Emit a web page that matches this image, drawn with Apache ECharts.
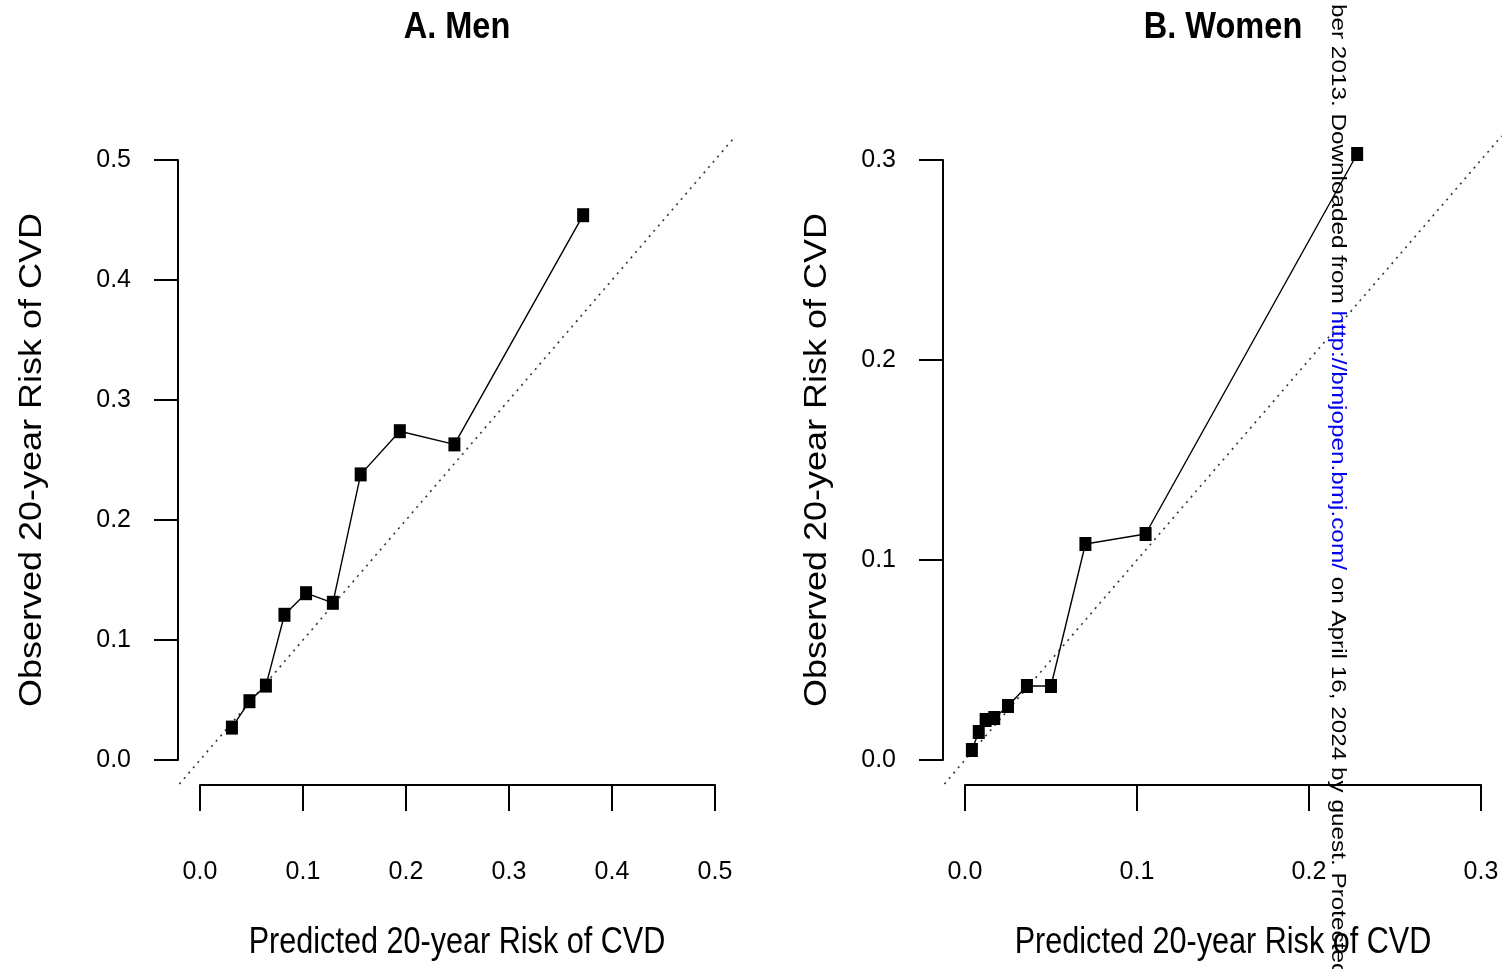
<!DOCTYPE html>
<html lang="en">
<head>
<meta charset="UTF-8">
<title>Calibration of predicted 20-year CVD risk</title>
<script src="https://cdn.jsdelivr.net/npm/echarts@6/dist/echarts.min.js"></script>
<style>
  html, body { margin: 0; padding: 0; background: #fff; }
  #chart { width: 1506px; height: 969px; }
</style>
</head>
<body>
<div id="chart"></div>
<script>
  // A. Men  - predicted vs observed risk per risk group
  var menPredicted = [0.031, 0.048, 0.064, 0.082, 0.103, 0.129, 0.156, 0.194, 0.247, 0.372];
  var menObserved  = [0.027, 0.049, 0.062, 0.121, 0.139, 0.131, 0.238, 0.274, 0.263, 0.454];
  // B. Women
  var womenPredicted = [0.004, 0.008, 0.012, 0.017, 0.025, 0.036, 0.050, 0.070, 0.105, 0.228];
  var womenObserved  = [0.005, 0.014, 0.020, 0.021, 0.027, 0.037, 0.037, 0.108, 0.113, 0.303];
  // axis maxima, plot region limits (R pads the range by 4%) used also for the y = x line
  var menAxisMax = 0.5;
  var womenAxisMax = 0.3;
  var menRegion = [-0.02, 0.52];
  var womenRegion = [-0.012, 0.312];
  var titles = ['A. Men', 'B. Women'];
  var xTitle = 'Predicted 20-year Risk of CVD';
  var yTitle = 'Observed 20-year Risk of CVD';

  var sans = '"Liberation Sans", Arial, sans-serif';

  function zip(a, b) {
    return a.map(function (v, i) { return [v, b[i]]; });
  }

  // visible R-style axes, detached from the plot region
  function xAxis(idx, max) {
    return {
      gridIndex: idx, type: 'value', min: 0, max: max, interval: 0.1,
      position: 'bottom', offset: 25,
      axisLine: { show: true, onZero: false, lineStyle: { color: '#000', width: 2 } },
      axisTick: { show: true, length: 26, lineStyle: { color: '#000', width: 2 } },
      axisLabel: { color: '#000', fontSize: 25, fontFamily: sans, margin: 75,
        formatter: function (v) { return v.toFixed(1); } },
      splitLine: { show: false }
    };
  }

  function yAxis(idx, max) {
    return {
      gridIndex: idx, type: 'value', min: 0, max: max, interval: 0.1,
      position: 'left', offset: 22,
      axisLine: { show: true, onZero: false, lineStyle: { color: '#000', width: 2 } },
      axisTick: { show: true, length: 24, lineStyle: { color: '#000', width: 2 } },
      axisLabel: { color: '#000', fontSize: 25, fontFamily: sans, margin: 47,
        formatter: function (v) { return v.toFixed(1); } },
      splitLine: { show: false }
    };
  }

  // hidden axes spanning the whole plot region, the data is drawn on these
  function regionAxis(idx, region) {
    return { gridIndex: idx, type: 'value', min: region[0], max: region[1], show: false };
  }

  function pointSeries(idx, data) {
    return {
      type: 'line', xAxisIndex: idx, yAxisIndex: idx, data: data,
      symbol: 'rect', symbolSize: [12, 14], clip: false, z: 5,
      lineStyle: { color: '#000', width: 1.4 },
      itemStyle: { color: '#000' }
    };
  }

  function diagonalSeries(idx, ends) {
    return {
      type: 'line', xAxisIndex: idx, yAxisIndex: idx,
      data: [[ends[0], ends[0]], [ends[1], ends[1]]],
      symbol: 'none', clip: false, z: 3, silent: true,
      lineStyle: { color: '#333', width: 1.6, type: [2, 5] }
    };
  }

  function hText(text, x, y, size, weight, sx) {
    return { type: 'text', x: x, y: y, scaleX: sx, z: 50,
      style: { text: text, align: 'center', verticalAlign: 'middle', fill: '#000',
        font: weight + ' ' + size + 'px ' + sans } };
  }

  function vText(text, x, y) {
    return { type: 'text', x: x, y: y, rotation: Math.PI / 2, scaleY: 0.85, z: 50,
      style: { text: text, align: 'center', verticalAlign: 'middle', fill: '#000',
        font: 'normal 36px ' + sans } };
  }

  var chart = echarts.init(document.getElementById('chart'));
  chart.setOption({
    animation: false,
    backgroundColor: '#fff',
    grid: [
      { left: 200, top: 160, width: 515, height: 600 },
      { left: 965, top: 160, width: 516, height: 600 },
      { left: 179.4, top: 136, width: 556.2, height: 648 },
      { left: 944.36, top: 136, width: 557.28, height: 648 }
    ],
    xAxis: [xAxis(0, menAxisMax), xAxis(1, womenAxisMax), regionAxis(2, menRegion), regionAxis(3, womenRegion)],
    yAxis: [yAxis(0, menAxisMax), yAxis(1, womenAxisMax), regionAxis(2, menRegion), regionAxis(3, womenRegion)],
    series: [
      diagonalSeries(2, menRegion),
      pointSeries(2, zip(menPredicted, menObserved)),
      diagonalSeries(3, womenRegion),
      pointSeries(3, zip(womenPredicted, womenObserved))
    ],
    graphic: [
      hText(titles[0], 457, 28, 37, 'bold', 0.88),
      hText(titles[1], 1223, 28, 37, 'bold', 0.88),
      hText(xTitle, 457, 943, 36, 'normal', 0.85),
      hText(xTitle, 1223, 943, 36, 'normal', 0.85),
      vText(yTitle, 33, 460),
      vText(yTitle, 818, 460),
      { type: 'text', x: 1338, y: 4, rotation: -Math.PI / 2, scaleY: 0.85, z: 100,
        style: {
          text: '{a|ber 2013. Downloaded from }{b|http://bmjopen.bmj.com/}{a| on April 16, 2024 by guest. Protected}',
          align: 'left', verticalAlign: 'middle',
          rich: {
            a: { fill: '#000', fontSize: 24.3, fontFamily: sans },
            b: { fill: '#0000ee', fontSize: 24.3, fontFamily: sans }
          }
        } }
    ]
  });
</script>
</body>
</html>
